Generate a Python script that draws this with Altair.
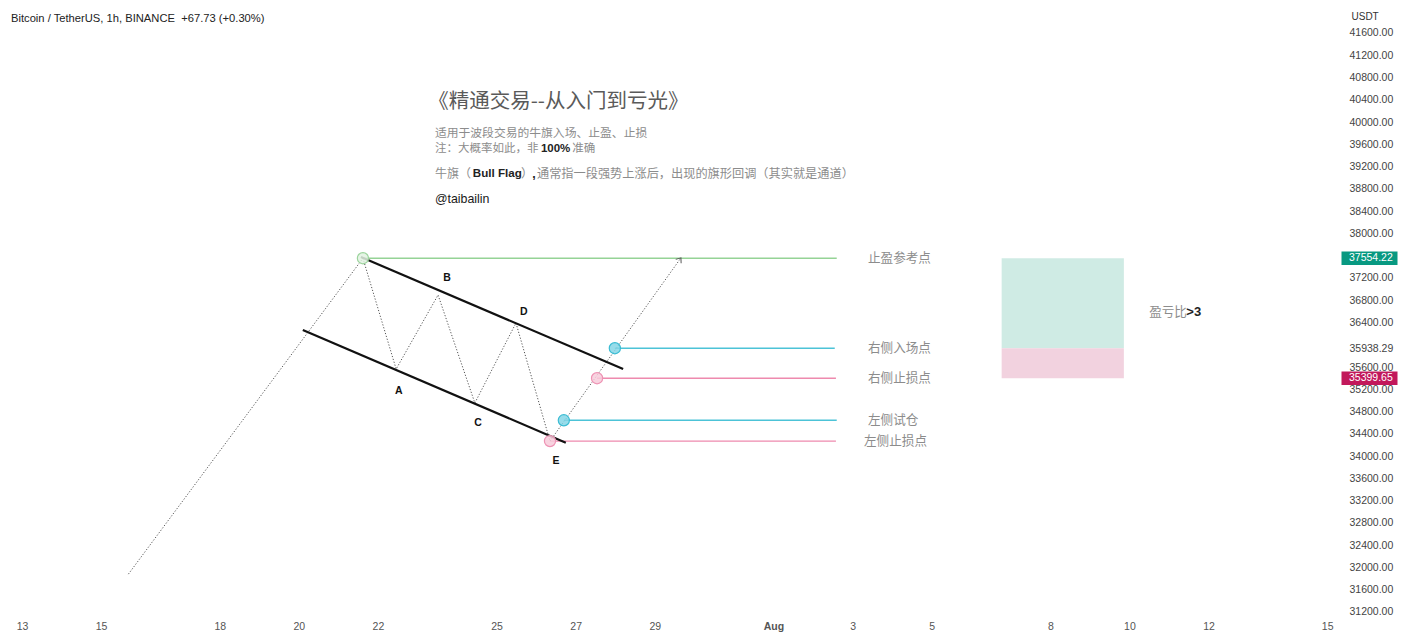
import altair as alt
import pandas as pd

# ---- data (x = day counted from 1 July; 1 Aug = 32) ----
x_ticks = [13, 15, 18, 20, 22, 25, 27, 29, 32, 34, 36, 39, 41, 43, 46]
y_ticks = [31200, 31600, 32000, 32400, 32800, 33200, 33600, 34000, 34400, 34800,
           35200, 35600, 35938.29, 36400, 36800, 37200, 38000, 38400, 38800,
           39200, 39600, 40000, 40400, 40800, 41200, 41600]
x_domain = [12.646, 46.325]
y_domain = [31128, 42049]

pole_day = [15.69, 21.62]
pole_price = [31880, 37554.22]

swing_day = [21.62, 22.46, 23.52, 24.45, 25.49, 26.35]
swing_price = [37554.22, 35564, 36894, 34954, 36391, 34270]

proj_day = [26.35, 29.64]
proj_price = [34270, 37540]

upper_day = [21.57, 28.20]
upper_price = [37576, 35564]
lower_day = [20.10, 26.75]
lower_price = [36265, 34241]

letter_text = ["A", "B", "C", "D", "E"]
letter_day = [22.53, 23.75, 24.53, 25.69, 26.50]
letter_price = [35169, 37199, 34594, 36588, 33912]

level_name = ["止盈参考点", "右侧入场点", "右侧止损点", "左侧试仓", "左侧止损点"]
level_line_color = ["#95d396", "#4cc3d7", "#ee8aae", "#4cc3d7", "#ee8aae"]
level_fill_color = ["#e2f2e2", "#85d6e6", "#f7cbdb", "#85d6e6", "#f7cbdb"]
level_ring_color = ["#9cd49d", "#3bbcd3", "#ee93b4", "#3bbcd3", "#ee93b4"]
level_price = [37554.22, 35938.29, 35399.65, 34643, 34270]
level_start = [21.62, 27.99, 27.54, 26.70, 26.35]
level_end = [33.60, 33.55, 33.58, 33.60, 33.58]
level_label_day = [34.39, 34.39, 34.39, 34.39, 34.29]

rr_day = [37.77, 40.86]
rr_color = ["#cfebe4", "#f2d2df"]
rr_top = [37554.22, 35938.29]
rr_bottom = [35938.29, 35399.65]
rr_text_day = [41.50, 42.44]
rr_text = ["盈亏比", ">3"]
rr_text_price = 36594

title_text = "《精通交易--从入门到亏光》"
title_day = 23.27
title_price = 40360

note_text = ["适用于波段交易的牛旗入场、止盈、止损", "注：大概率如此，非", "准确",
             "牛旗（", "）", "通常指一段强势上涨后，出现的旗形回调（其实就是通道）"]
note_day = [23.44, 23.44, 26.91, 23.44, 25.62, 26.02]
note_price = [39804, 39516, 39516, 39076, 39076, 39076]
note_size = [11.8, 11.5, 11.5, 12, 12, 12.2]

strong_text = ["100%", "Bull Flag", ","]
strong_day = [26.12, 24.40, 25.90]
strong_price = [39516, 39076, 39076]
strong_size = [11.5, 11.6, 12.4]

handle_text = "@taibailin"
handle_day = 23.44
handle_price = 38618

boxed_price = [37554.22, 35399.65]
boxed_color = ["#089981", "#c2185b"]

header = "Bitcoin / TetherUS, 1h, BINANCE\u00a0\u00a0+67.73 (+0.30%)"

W, H = 1332, 608
LATIN = "Liberation Sans"
CJK = "Noto Sans CJK SC"

xaxis = alt.Axis(values=x_ticks, title=None, grid=False, domain=False, ticks=False,
                 labelPadding=5, labelFontSize=10.5, labelFont=LATIN, labelColor="#555",
                 labelFlush=False, labelOverlap=False,
                 labelExpr="datum.value == 32 ? 'Aug' : '' + (datum.value > 31 ? datum.value - 31 : datum.value)",
                 labelFontWeight={"condition": {"test": "datum.value == 32", "value": "bold"}, "value": "normal"})
yaxis = alt.Axis(values=y_ticks, orient="right", grid=False, domain=False, ticks=False,
                 labelPadding=9, labelAlign="left", labelFontSize=10.5, labelFont=LATIN,
                 labelColor="#444", labelOverlap=False, labelFlush=False,
                 labelExpr="format(datum.value, '.2f')",
                 title="USDT", titleAngle=0, titleAlign="left", titleBaseline="middle",
                 titleX=11, titleY=8, titleFontSize=10, titleFont=LATIN,
                 titleFontWeight="normal", titleColor="#333")


def X(field):
    return alt.X(field, type="quantitative", scale=alt.Scale(domain=x_domain, nice=False, zero=False), axis=xaxis)


def Y(field):
    return alt.Y(field, type="quantitative", scale=alt.Scale(domain=y_domain, nice=False, zero=False), axis=yaxis)


def path_df(days, prices):
    return pd.DataFrame({"day": days, "price": prices, "o": list(range(len(days)))})


dots = dict(color="#555", strokeWidth=1, strokeDash=[1.2, 1.8])

pole = alt.Chart(path_df(pole_day, pole_price)).mark_line(**dots).encode(x=X("day"), y=Y("price"), order="o")
swing = alt.Chart(path_df(swing_day, swing_price)).mark_line(**dots).encode(x=X("day"), y=Y("price"), order="o")
proj = alt.Chart(path_df(proj_day, proj_price)).mark_line(**dots).encode(x=X("day"), y=Y("price"), order="o")
arrow = alt.Chart(pd.DataFrame({"day": [proj_day[1]], "price": [proj_price[1]]})).mark_point(
    shape="M-0.7,0.6L0,-0.3L0.7,0.6", filled=False, size=90, angle=36, color="#555", strokeWidth=1,
    opacity=1).encode(x=X("day"), y=Y("price"))

upper = alt.Chart(path_df(upper_day, upper_price)).mark_line(color="#111", strokeWidth=2.2).encode(
    x=X("day"), y=Y("price"), order="o")
lower = alt.Chart(path_df(lower_day, lower_price)).mark_line(color="#111", strokeWidth=2.2).encode(
    x=X("day"), y=Y("price"), order="o")

levels = pd.DataFrame({"name": level_name, "lc": level_line_color, "fc": level_fill_color,
                       "rc": level_ring_color, "price": level_price,
                       "start": level_start, "end": level_end, "lday": level_label_day})

level_rules = alt.Chart(levels).mark_rule(strokeWidth=1.4).encode(
    x=X("start"), x2=alt.X2("end"), y=Y("price"),
    color=alt.Color("lc:N", scale=None))
level_dots = alt.Chart(levels).mark_circle(size=125, strokeWidth=1.2, opacity=1, fillOpacity=0.85).encode(
    x=X("start"), y=Y("price"),
    fill=alt.Fill("fc:N", scale=None),
    stroke=alt.Stroke("rc:N", scale=None))
level_text = alt.Chart(levels).mark_text(align="left", baseline="middle", font=CJK, fontSize=12.6,
                                         color="#8c8c8c").encode(x=X("lday"), y=Y("price"), text="name:N")

letters = alt.Chart(pd.DataFrame({"t": letter_text, "day": letter_day, "price": letter_price})).mark_text(
    font=LATIN, fontSize=10.5, fontWeight="bold", color="#111", baseline="middle", align="center").encode(
    x=X("day"), y=Y("price"), text="t:N")

rr = pd.DataFrame({"c": rr_color, "d0": [rr_day[0]] * 2, "d1": [rr_day[1]] * 2, "top": rr_top, "bot": rr_bottom})
rr_rect = alt.Chart(rr).mark_rect().encode(
    x=X("d0"), x2=alt.X2("d1"), y=Y("top"), y2=alt.Y2("bot"),
    color=alt.Color("c:N", scale=None))
rr_t1 = alt.Chart(pd.DataFrame({"t": [rr_text[0]], "day": [rr_text_day[0]], "price": [rr_text_price]})).mark_text(
    align="left", baseline="middle", font=CJK, fontSize=12.6, color="#8c8c8c").encode(x=X("day"), y=Y("price"), text="t:N")
rr_t2 = alt.Chart(pd.DataFrame({"t": [rr_text[1]], "day": [rr_text_day[1]], "price": [rr_text_price]})).mark_text(
    align="left", baseline="middle", font=LATIN, fontSize=13, fontWeight="bold", color="#222").encode(
    x=X("day"), y=Y("price"), text="t:N")

title = alt.Chart(pd.DataFrame({"t": [title_text], "day": [title_day], "price": [title_price]})).mark_text(
    align="left", baseline="middle", font=CJK, fontSize=20.5, color="#5a5a5a").encode(x=X("day"), y=Y("price"), text="t:N")
notes = alt.Chart(pd.DataFrame({"t": note_text, "day": note_day, "price": note_price, "s": note_size})).mark_text(
    align="left", baseline="middle", font=CJK, color="#8c8c8c").encode(
    x=X("day"), y=Y("price"), text="t:N", size=alt.Size("s:Q", scale=None))
strong = alt.Chart(pd.DataFrame({"t": strong_text, "day": strong_day, "price": strong_price, "s": strong_size})).mark_text(
    align="left", baseline="middle", font=LATIN, fontWeight="bold", color="#222").encode(
    x=X("day"), y=Y("price"), text="t:N", size=alt.Size("s:Q", scale=None))
handle = alt.Chart(pd.DataFrame({"t": [handle_text], "day": [handle_day], "price": [handle_price]})).mark_text(
    align="left", baseline="middle", font=LATIN, fontSize=12.4, color="#1a1a1a").encode(
    x=X("day"), y=Y("price"), text="t:N")

boxes = pd.DataFrame({"price": boxed_price, "c": boxed_color})
box_marks = alt.Chart(boxes).mark_point(
    shape="M-1,-0.24L1,-0.24L1,0.24L-1,0.24Z", filled=True, size=56 * 56, opacity=1, strokeWidth=0).encode(
    x=alt.value(W + 29.5), y=Y("price"), color=alt.Color("c:N", scale=None))
box_text = alt.Chart(boxes).mark_text(align="left", baseline="middle", font=LATIN, fontSize=10.5,
                                      color="white").encode(
    x=alt.value(W + 9), y=Y("price"), text=alt.Text("price:Q", format=".2f"))

head = alt.Chart(pd.DataFrame({"t": [header]})).mark_text(
    align="left", baseline="middle", font=LATIN, fontSize=11.2, color="#222").encode(
    x=alt.value(3), y=alt.value(11), text="t:N")

chart = alt.layer(
    rr_rect, level_rules, pole, swing, proj, arrow, upper, lower, level_dots,
    level_text, letters, rr_t1, rr_t2, title, notes, strong, handle, box_marks, box_text, head
).properties(
    width=W, height=H, autosize=alt.AutoSizeParams(type="none"),
    padding={"left": 0, "top": 0, "right": 58, "bottom": 18}, background="white"
).configure_view(strokeWidth=0)

chart.save("out.html", embed_options={"renderer": "svg", "actions": False})
